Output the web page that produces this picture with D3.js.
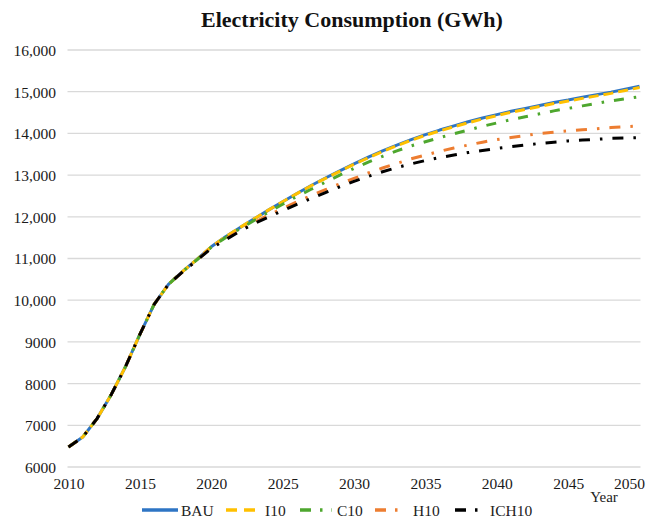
<!DOCTYPE html>
<html>
<head>
<meta charset="utf-8">
<script src="https://cdn.jsdelivr.net/npm/d3@7"></script>
<style>
  html, body { margin: 0; padding: 0; background: #fff; }
  svg { display: block; }
  text { font-family: "Liberation Serif", "Times New Roman", serif; fill: #222; }
</style>
</head>
<body>
<svg id="chart" width="654" height="522"></svg>
<script>
// Annual electricity consumption (GWh), 2010–2050, per scenario
const years = d3.range(2010, 2051);

const bau = [6480, 6720, 7160, 7740, 8410, 9180, 9900, 10380, 10690, 10980,
  11280, 11520, 11740, 11950, 12160, 12360, 12560, 12750, 12930, 13100,
  13270, 13430, 13580, 13720, 13850, 13970, 14080, 14180, 14280, 14370,
  14450, 14530, 14600, 14670, 14740, 14800, 14870, 14930, 14990, 15060, 15130];

const i10 = [6480, 6720, 7160, 7740, 8410, 9180, 9900, 10380, 10690, 10980,
  11280, 11520, 11740, 11950, 12160, 12360, 12555, 12745, 12920, 13090,
  13260, 13415, 13565, 13705, 13835, 13955, 14060, 14160, 14255, 14345,
  14425, 14505, 14575, 14645, 14715, 14775, 14840, 14900, 14960, 15030, 15100];

const c10 = [6480, 6720, 7160, 7740, 8410, 9180, 9900, 10380, 10690, 10970,
  11270, 11500, 11710, 11910, 12110, 12300, 12490, 12660, 12830, 13000,
  13160, 13310, 13450, 13580, 13700, 13800, 13900, 13990, 14080, 14170,
  14250, 14330, 14400, 14470, 14540, 14600, 14660, 14720, 14780, 14830, 14880];

const h10 = [6480, 6720, 7160, 7740, 8410, 9180, 9900, 10380, 10680, 10960,
  11260, 11470, 11670, 11860, 12040, 12200, 12360, 12510, 12650, 12790,
  12920, 13050, 13170, 13280, 13390, 13480, 13570, 13650, 13720, 13790,
  13850, 13900, 13950, 14000, 14030, 14060, 14090, 14110, 14140, 14160, 14180];

const ich10 = [6480, 6720, 7160, 7740, 8410, 9180, 9900, 10380, 10680, 10960,
  11240, 11450, 11650, 11840, 11990, 12150, 12300, 12440, 12580, 12720,
  12850, 12970, 13080, 13180, 13270, 13350, 13420, 13480, 13540, 13590,
  13640, 13680, 13720, 13760, 13790, 13820, 13840, 13860, 13880, 13890, 13900];

const seriesNames = ["BAU", "I10", "C10", "H10", "ICH10"];
const seriesValues = [bau, i10, c10, h10, ich10];

const yTickValues = [6000, 7000, 8000, 9000, 10000, 11000, 12000, 13000, 14000, 15000, 16000];
const yTickLabels = ["6000", "7000", "8000", "9000", "10,000", "11,000", "12,000", "13,000", "14,000", "15,000", "16,000"];
const xTickValues = [2010, 2015, 2020, 2025, 2030, 2035, 2040, 2045, 2050];

// Line styling per scenario
const styles = {
  "BAU":   { color: "#2e75c4", dash: null,           width: 3 },
  "I10":   { color: "#ffc000", dash: "10,5",         width: 3 },
  "C10":   { color: "#4ea72e", dash: "10,10,2.5,10", width: 3 },
  "H10":   { color: "#ed7d31", dash: "11,10,2.5,10", width: 3 },
  "ICH10": { color: "#000000", dash: "11,10,2.5,10", width: 3 }
};

const svg = d3.select("#chart");

const x = d3.scaleLinear().domain([2010, 2050]).range([68.5, 639.5]);
const y = d3.scaleLinear().domain([6000, 16000]).range([467, 50]);

// Title
svg.append("text")
  .attr("x", 352).attr("y", 27)
  .attr("text-anchor", "middle")
  .style("font-size", "22px")
  .style("font-weight", "bold")
  .style("fill", "#111")
  .text("Electricity Consumption (GWh)");

// Horizontal gridlines
svg.append("g")
  .selectAll("line")
  .data(yTickValues)
  .join("line")
  .attr("x1", x(2010) - 1).attr("x2", x(2050) + 1)
  .attr("y1", d => y(d)).attr("y2", d => y(d))
  .attr("stroke", "#d9d9d9")
  .attr("stroke-width", 1.3);

// Y axis labels
const yAxis = d3.axisLeft(y)
  .tickValues(yTickValues)
  .tickFormat((d, i) => yTickLabels[i])
  .tickSize(0)
  .tickPadding(0);
const gy = svg.append("g").attr("transform", "translate(56,0)").call(yAxis);
gy.select(".domain").remove();
gy.selectAll("text")
  .attr("dy", "0.35em")
  .style("font-size", "15.5px")
  .style("font-family", "'Liberation Serif', 'Times New Roman', serif")
  .style("fill", "#1a1a1a");

// X axis labels
const xAxis = d3.axisBottom(x)
  .tickValues(xTickValues)
  .tickFormat(d3.format("d"))
  .tickSize(0)
  .tickPadding(0);
const gx = svg.append("g").attr("transform", "translate(0,476)").call(xAxis);
gx.select(".domain").remove();
gx.selectAll("text")
  .attr("dy", "0.85em")
  .style("font-size", "15.5px")
  .style("font-family", "'Liberation Serif', 'Times New Roman', serif")
  .style("fill", "#1a1a1a");
// keep the last label inside the chart area
gx.selectAll(".tick").filter(d => d === 2050).select("text")
  .attr("text-anchor", "end")
  .attr("x", 5);

// Axis title
svg.append("text")
  .attr("x", 604).attr("y", 502)
  .attr("text-anchor", "middle")
  .style("font-size", "15px")
  .text("Year");

// Scenario lines
const line = d3.line()
  .x((d, i) => x(years[i]))
  .y(d => y(d));

const gLines = svg.append("g");
seriesNames.forEach((name, k) => {
  const s = styles[name];
  gLines.append("path")
    .datum(seriesValues[k])
    .attr("d", line)
    .attr("fill", "none")
    .attr("stroke", s.color)
    .attr("stroke-width", s.width)
    .attr("stroke-dasharray", s.dash)
    .attr("stroke-linejoin", "round");
});

// Legend
const legendItems = [
  { name: "BAU",   x0: 142, x1: 178, tx: 181 },
  { name: "I10",   x0: 226, x1: 262, tx: 265 },
  { name: "C10",   x0: 300, x1: 332, tx: 337 },
  { name: "H10",   x0: 375, x1: 406, tx: 413 },
  { name: "ICH10", x0: 455, x1: 483, tx: 490 }
];
const legendPatterns = {
  "BAU": null, "I10": "11,7", "C10": "11,9,2.5,9", "H10": "11,9,2.5,9", "ICH10": "11,9,2.5,9"
};
const gLeg = svg.append("g");
legendItems.forEach(it => {
  const s = styles[it.name];
  gLeg.append("line")
    .attr("x1", it.x0).attr("x2", it.x1)
    .attr("y1", 510).attr("y2", 510)
    .attr("stroke", s.color)
    .attr("stroke-width", 3.5)
    .attr("stroke-dasharray", legendPatterns[it.name]);
  gLeg.append("text")
    .attr("x", it.tx).attr("y", 515.5)
    .style("font-size", "15.5px")
    .text(it.name);
});
</script>
</body>
</html>
